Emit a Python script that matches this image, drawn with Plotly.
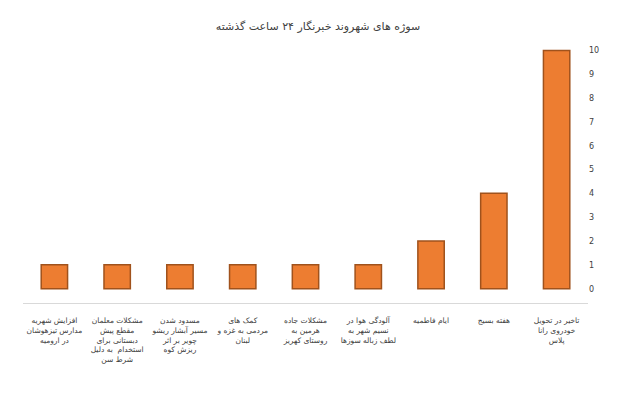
import plotly.graph_objects as go

title = "سوژه های شهروند خبرنگار ۲۴ ساعت گذشته"
categories = [
    "افزایش شهریه<br>مدارس تیزهوشان<br>در ارومیه",
    "مشکلات معلمان<br>مقطع پیش<br>دبستانی برای<br>استخدام  به دلیل<br>شرط سن",
    "مسدود شدن<br>مسیر آبشار ریشو<br>چویر بر اثر<br>ریزش کوه",
    "کمک های<br>مردمی به غزه و<br>لبنان",
    "مشکلات جاده<br>هرمین به<br>روستای کهریز",
    "آلودگی هوا در<br>نسیم شهر به<br>لطف زباله سوزها",
    "ایام فاطمیه",
    "هفته بسیج",
    "تاخیر در تحویل<br>خودروی رانا<br>پلاس",
]
values = [1, 1, 1, 1, 1, 1, 2, 4, 10]
tick_vals = list(range(0, 11))

fig = go.Figure(go.Bar(
    x=categories, y=values, width=0.42,
    marker=dict(color="#ED7D31", line=dict(color="#A0521C", width=1.5)),
))
fig.update_layout(
    width=620, height=420,
    margin=dict(l=15, r=40, t=40, b=125),
    paper_bgcolor="white", plot_bgcolor="white",
    font=dict(family="DejaVu Sans", size=8, color="#404040"),
    title=dict(text=title, x=0.5, y=0.965, font=dict(size=11, color="#404040")),
    showlegend=False,
    bargap=0.5,
)
fig.update_xaxes(tickangle=0, showline=True, linecolor="#D9D9D9", ticks="outside",
                 ticklen=10, tickcolor="rgba(0,0,0,0)", tickfont=dict(size=7.5))
fig.update_yaxes(side="right", range=[-0.6, 10.1], tickvals=tick_vals, showgrid=False,
                 zeroline=False, tickfont=dict(size=8))
fig.write_html("out.html")
